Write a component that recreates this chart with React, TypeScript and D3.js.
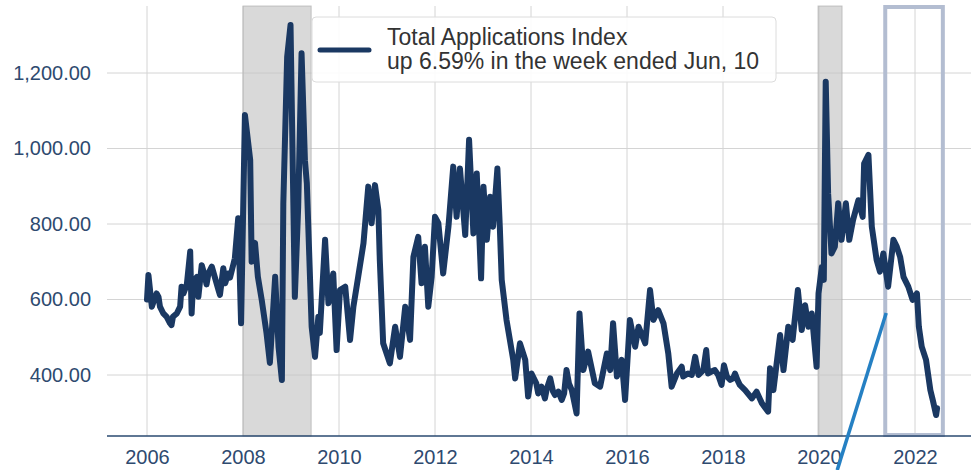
import React, { useEffect, useRef } from 'react';
import * as d3 from 'd3';

// [week as decimal year, index value]
const series2006to2009: [number, number][] = [
  [2006.0, 600], [2006.03, 665], [2006.1, 581], [2006.2, 616], [2006.24, 607], [2006.27, 581],
  [2006.34, 563], [2006.41, 554], [2006.48, 537], [2006.51, 532], [2006.54, 554], [2006.62, 563],
  [2006.69, 581], [2006.72, 634], [2006.76, 616], [2006.83, 640], [2006.9, 727], [2006.93, 563],
  [2006.96, 643], [2007.04, 660], [2007.07, 607], [2007.14, 691], [2007.21, 660], [2007.24, 640],
  [2007.28, 669], [2007.35, 687], [2007.42, 656], [2007.49, 625], [2007.52, 612], [2007.59, 683],
  [2007.63, 643], [2007.69, 669], [2007.73, 658], [2007.83, 709], [2007.9, 815], [2007.96, 537],
  [2008.04, 1089], [2008.15, 969], [2008.18, 700], [2008.25, 750], [2008.31, 660], [2008.39, 599],
  [2008.49, 511], [2008.56, 432], [2008.67, 660], [2008.74, 475], [2008.81, 387], [2008.84, 855],
  [2008.92, 1243], [2008.99, 1327], [2009.08, 607], [2009.15, 846], [2009.22, 1252], [2009.29, 969],
  [2009.33, 908], [2009.43, 528], [2009.5, 448], [2009.57, 554], [2009.6, 511], [2009.71, 758],
  [2009.78, 590], [2009.88, 669], [2009.95, 466],
];
const series2010to2013: [number, number][] = [
  [2010.02, 625], [2010.13, 634], [2010.23, 493], [2010.3, 581], [2010.4, 660], [2010.51, 749],
  [2010.61, 899], [2010.68, 802], [2010.75, 903], [2010.82, 837], [2010.85, 705], [2010.92, 484],
  [2011.06, 431], [2011.17, 528], [2011.27, 448], [2011.38, 581], [2011.48, 493], [2011.55, 713],
  [2011.65, 766], [2011.72, 643], [2011.79, 740], [2011.86, 581], [2011.93, 660], [2012.0, 819],
  [2012.07, 802], [2012.17, 669], [2012.28, 793], [2012.38, 952], [2012.45, 819], [2012.52, 947],
  [2012.63, 771], [2012.71, 1023], [2012.8, 775], [2012.87, 934], [2012.96, 656], [2013.01, 899],
  [2013.08, 758], [2013.15, 872], [2013.21, 793], [2013.3, 947], [2013.35, 793], [2013.39, 652],
  [2013.49, 546], [2013.63, 440], [2013.67, 391], [2013.77, 484], [2013.88, 440], [2013.94, 343],
];
const series2014to2018: [number, number][] = [
  [2014.01, 404], [2014.11, 378], [2014.15, 351], [2014.22, 369], [2014.29, 338], [2014.33, 364],
  [2014.4, 391], [2014.46, 356], [2014.5, 347], [2014.57, 356], [2014.64, 334], [2014.69, 351],
  [2014.74, 413], [2014.79, 378], [2014.85, 360], [2014.95, 298], [2015.01, 563], [2015.09, 413],
  [2015.19, 462], [2015.33, 378], [2015.44, 369], [2015.58, 457], [2015.65, 413], [2015.71, 537],
  [2015.79, 396], [2015.89, 440], [2015.96, 334], [2016.06, 546], [2016.17, 475], [2016.24, 528],
  [2016.38, 484], [2016.48, 625], [2016.55, 546], [2016.65, 572], [2016.76, 537], [2016.86, 457],
  [2016.93, 369], [2017.04, 404], [2017.14, 422], [2017.17, 396], [2017.27, 404], [2017.35, 400],
  [2017.42, 448], [2017.49, 400], [2017.59, 413], [2017.65, 466], [2017.69, 404], [2017.76, 409],
  [2017.83, 413], [2017.9, 400], [2017.97, 374], [2018.02, 426], [2018.08, 396], [2018.15, 387],
  [2018.21, 391], [2018.25, 404], [2018.3, 387], [2018.35, 374], [2018.46, 360], [2018.6, 338],
  [2018.7, 356], [2018.81, 325], [2018.94, 303], [2018.98, 418],
];
const series2019to2022: [number, number][] = [
  [2019.05, 360], [2019.19, 506], [2019.26, 413], [2019.36, 528], [2019.45, 493], [2019.56, 625],
  [2019.64, 519], [2019.71, 585], [2019.78, 528], [2019.85, 563], [2019.95, 422], [2019.99, 616],
  [2020.06, 687], [2020.1, 652], [2020.14, 1177], [2020.19, 881], [2020.26, 722], [2020.33, 740],
  [2020.4, 855], [2020.47, 758], [2020.56, 855], [2020.63, 758], [2020.71, 811], [2020.82, 863],
  [2020.91, 819], [2020.94, 960], [2021.03, 983], [2021.1, 793], [2021.2, 705], [2021.27, 674],
  [2021.34, 722], [2021.44, 634], [2021.55, 758], [2021.62, 740], [2021.69, 713], [2021.76, 660],
  [2021.86, 634], [2021.95, 599], [2022.04, 616], [2022.08, 528], [2022.14, 475], [2022.23, 440],
  [2022.32, 360], [2022.37, 334], [2022.44, 294], [2022.46, 312],
];

const yearTicks = [2006, 2008, 2010, 2012, 2014, 2016, 2018, 2020, 2022];
const valueTicks = [400, 600, 800, 1000, 1200];
const recessions = [
  [2008.0, 2009.42],
  [2019.98, 2020.48],
];
const highlight = [2021.38, 2022.58];
const arrowFrom = [2020.38, 148];
const arrowTo = [2021.4, 564];
const legendLines = ['Total Applications Index', 'up 6.59% in the week ended Jun, 10'];

const font = '"Liberation Sans", Arial, sans-serif';
const navy = '#1a3862';
const tickColor = '#2e4a6f';

export default function App() {
  const ref = useRef<SVGSVGElement>(null);

  useEffect(() => {
    const svg = d3.select(ref.current);
    svg.selectAll('*').remove();

    const left = 107;
    const right = 971;
    const top = 6;
    const bottom = 436;

    const x = d3.scaleLinear().domain([2006, 2022]).range([147, 915]);
    const y = d3.scaleLinear().domain([400, 1200]).range([375, 73]);

    // grid
    const grid = svg.append('g');
    grid
      .selectAll('line.v')
      .data(yearTicks)
      .enter()
      .append('line')
      .attr('x1', d => x(d))
      .attr('x2', d => x(d))
      .attr('y1', top)
      .attr('y2', bottom)
      .attr('stroke', '#d4d4d4')
      .attr('stroke-width', 1);
    grid
      .selectAll('line.h')
      .data(valueTicks)
      .enter()
      .append('line')
      .attr('x1', left)
      .attr('x2', right)
      .attr('y1', d => y(d))
      .attr('y2', d => y(d))
      .attr('stroke', '#d4d4d4')
      .attr('stroke-width', 1);

    // recession shading
    svg
      .selectAll('rect.rec')
      .data(recessions)
      .enter()
      .append('rect')
      .attr('x', d => x(d[0]))
      .attr('y', top)
      .attr('width', d => x(d[1]) - x(d[0]))
      .attr('height', bottom - top)
      .attr('fill', '#c4c4c4')
      .attr('fill-opacity', 0.65)
      .attr('stroke', '#a8a8a8')
      .attr('stroke-opacity', 0.6)
      .attr('stroke-width', 1);

    // highlight box
    svg
      .append('rect')
      .attr('x', x(highlight[0]))
      .attr('y', top + 1)
      .attr('width', x(highlight[1]) - x(highlight[0]))
      .attr('height', bottom - top - 2)
      .attr('fill', 'none')
      .attr('stroke', '#b3bdd1')
      .attr('stroke-width', 4);

    // axes
    const yAxis = d3
      .axisLeft(y)
      .tickValues(valueTicks)
      .tickFormat(d3.format(',.2f'))
      .tickSize(0)
      .tickPadding(0);
    const ya = svg.append('g').attr('transform', 'translate(91,0)').call(yAxis);
    ya.select('.domain').remove();
    ya.selectAll('text')
      .attr('font-size', 20)
      .attr('font-family', font)
      .attr('fill', tickColor);

    const xAxis = d3
      .axisBottom(x)
      .tickValues(yearTicks)
      .tickFormat(d3.format('d'))
      .tickSize(0)
      .tickPadding(14);
    const xa = svg.append('g').attr('transform', `translate(0,${bottom})`).call(xAxis);
    xa.select('.domain').remove();
    xa.selectAll('text')
      .attr('font-size', 20)
      .attr('font-family', font)
      .attr('fill', tickColor);

    svg
      .append('line')
      .attr('x1', left)
      .attr('x2', right)
      .attr('y1', bottom)
      .attr('y2', bottom)
      .attr('stroke', '#2a4a70')
      .attr('stroke-width', 1.5);

    // series
    const pts = [...series2006to2009, ...series2010to2013, ...series2014to2018, ...series2019to2022];
    const line = d3
      .line<[number, number]>()
      .x(d => x(d[0]))
      .y(d => y(d[1]));
    svg
      .append('path')
      .datum(pts)
      .attr('d', line)
      .attr('fill', 'none')
      .attr('stroke', navy)
      .attr('stroke-width', 6)
      .attr('stroke-linejoin', 'round')
      .attr('stroke-linecap', 'round');

    // legend
    const lg = svg.append('g');
    lg.append('rect')
      .attr('x', 312)
      .attr('y', 17)
      .attr('width', 464)
      .attr('height', 65)
      .attr('rx', 4)
      .attr('fill', '#fff')
      .attr('fill-opacity', 0.9)
      .attr('stroke', '#dcdcdc');
    lg.append('line')
      .attr('x1', 320)
      .attr('x2', 369)
      .attr('y1', 50)
      .attr('y2', 50)
      .attr('stroke', navy)
      .attr('stroke-width', 5)
      .attr('stroke-linecap', 'round');
    lg.selectAll('text')
      .data(legendLines)
      .enter()
      .append('text')
      .attr('x', 387)
      .attr('y', (d, i) => 45 + i * 24)
      .attr('font-size', 23)
      .attr('font-family', font)
      .attr('fill', '#333')
      .text(d => d);

    // arrow annotation
    svg
      .append('line')
      .attr('x1', x(arrowFrom[0]))
      .attr('y1', y(arrowFrom[1]))
      .attr('x2', x(arrowTo[0]))
      .attr('y2', y(arrowTo[1]))
      .attr('stroke', '#2580c3')
      .attr('stroke-width', 3.5);
  }, []);

  return (
    <svg
      ref={ref}
      width={971}
      height={470}
      style={{ position: 'absolute', left: 0, top: 0, background: '#fff' }}
    />
  );
}
